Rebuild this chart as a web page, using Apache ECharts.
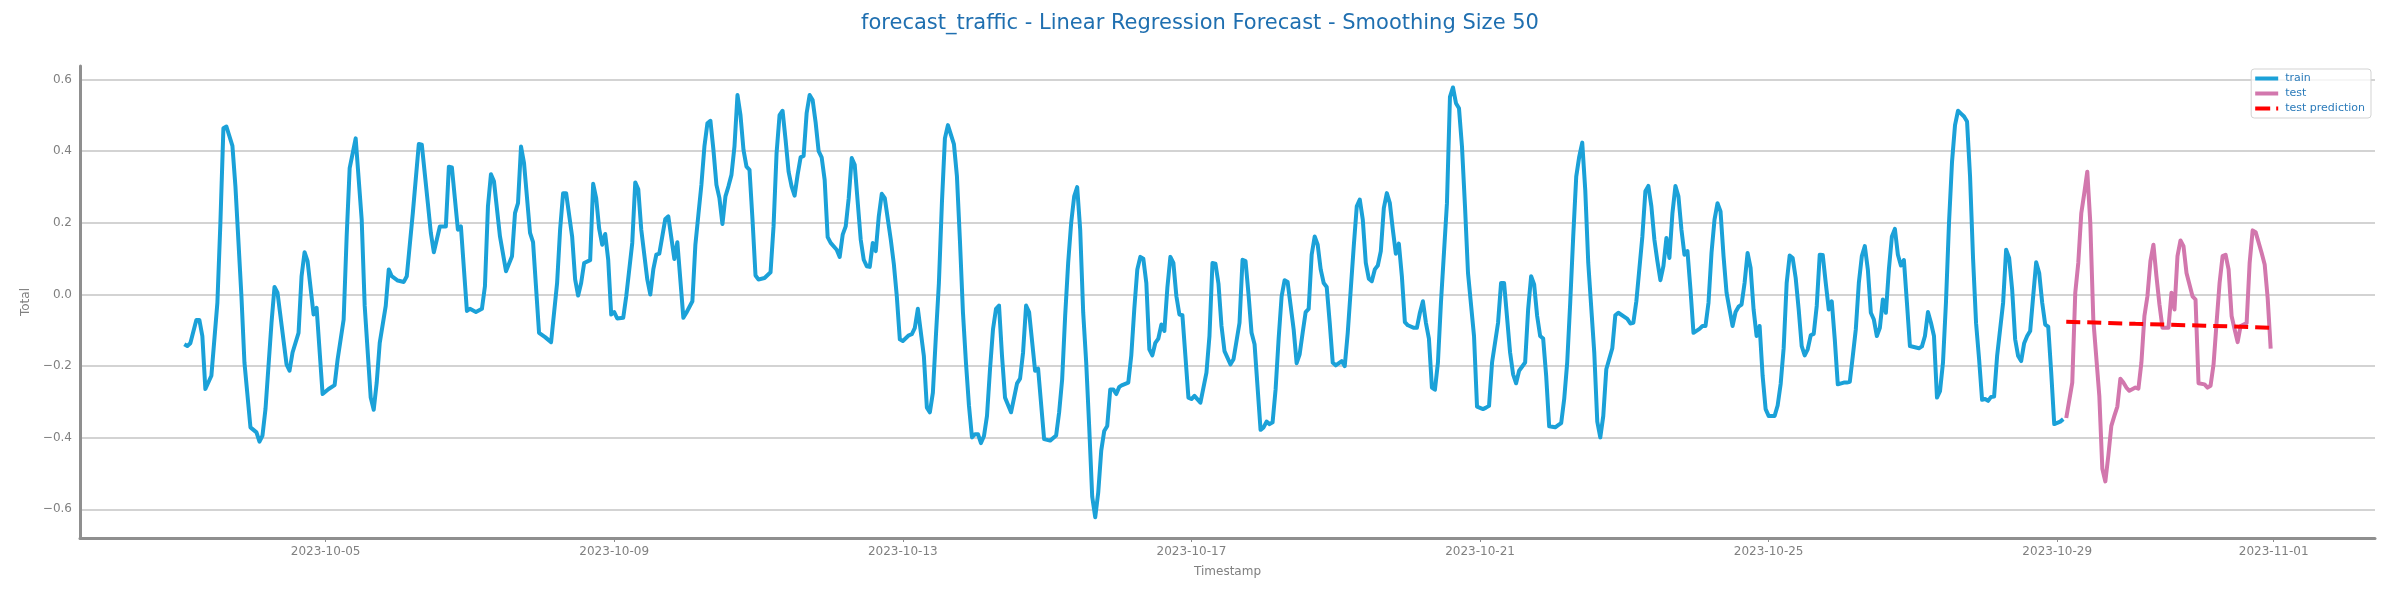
<!DOCTYPE html>
<html>
<head>
<meta charset="utf-8">
<script src="https://cdn.jsdelivr.net/npm/echarts@6/dist/echarts.min.js"></script>
<style>
html,body{margin:0;padding:0;background:#ffffff;}
#chart{width:2400px;height:600px;}
</style>
</head>
<body>
<div id="chart"></div>
<script>
// ---------------- DATA ----------------
const titleText = 'forecast_traffic - Linear Regression Forecast - Smoothing Size 50';
const startTime = '2023-10-03T00:00:00Z'; // hours below are counted from this instant
const xTickLabels = ['2023-10-05','2023-10-09','2023-10-13','2023-10-17','2023-10-21','2023-10-25','2023-10-29','2023-11-01'];
const seriesNames = ['train', 'test', 'test prediction'];

const trainHours = [
1,2,3,5,6,7,8,10,12,13,
14,15,17,18,20,21,23,25,26,27,
28,30,31,32,35,36,37,39,40,41,
42,44,45,47,49,51,52,54,55,56,
58,60,61,63,64,65,66,68,69,70,
72,74,75,77,79,80,82,83,84,86,
88,89,90,92,93,95,96,98,100,101,
102,103,104,106,108,110,111,112,113,114,
116,117,119,121,123,125,126,127,128,130,
131,132,133,134,136,137,138,139,140,141,
142,143,144,145,147,148,150,151,152,153,
155,156,157,158,159,161,162,164,165,167,
168,170,171,172,173,174,175,176,177,178,
179,180,181,182,183,184,185,186,187,188,
189,190,191,192,194,196,197,198,199,200,
201,202,203,204,205,206,207,208,209,210,
211,212,213,214,215,216,218,219,220,221,
222,223,224,226,227,228,229,230,231,232,
233,234,236,237,238,239,240,242,243,244,
245,247,248,249,250,251,252,253,254,255,
257,258,259,260,261,262,263,264,265,266,
267,268,269,270,271,272,273,274,276,278,
279,280,281,282,284,285,287,289,291,292,
293,294,295,296,297,298,299,300,301,302,
303,304,305,306,307,308,309,310,311,312,
313,315,316,317,318,319,320,321,322,323,
324,325,326,327,328,329,330,331,332,333,
334,335,336,337,339,341,342,343,344,345,
346,347,349,350,352,353,354,355,356,357,
359,360,361,362,363,364,365,366,367,368,
370,371,372,373,374,375,376,377,378,379,
380,381,382,383,384,386,387,388,389,390,
391,392,393,394,395,396,397,398,399,400,
401,402,403,404,405,406,407,408,410,411,
412,413,414,415,416,417,418,419,421,422,
423,424,425,426,427,428,430,431,433,434,
435,436,438,439,440,442,443,444,445,447,
448,449,450,451,452,453,454,455,457,458,
459,460,461,462,463,464,465,466,467,468,
470,471,472,473,474,476,477,478,481,482,
483,484,486,487,488,489,490,491,492,493,
494,495,496,497,498,499,500,501,502,503,
505,506,507,508,509,510,511,512,513,514,
515,516,517,518,519,520,521,522,523,524,
525,526,527,528,530,531,532,533,534,535,
536,537,538,539,540,541,542,543,544,545,
546,547,548,549,550,551,553,554,555,556,
557,558,559,560,561,562,563,564,565,566,
567,568,569,570,571,572,573,574,575,576,
578,579,580,581,582,583,584,585,586,587,
588,589,590,591,592,593,594,595,596,597,
598,599,600,601,602,603,604,606,607,608,
609,610,611,612,613,614,615,616,617,618,
619,620,621,622,623,625,626
];
const trainValues = [
-0.139,-0.144,-0.136,-0.071,-0.071,-0.116,-0.264,-0.227,-0.023,0.200,
0.464,0.469,0.415,0.302,-0.005,-0.190,-0.371,-0.385,-0.411,-0.394,
-0.320,-0.079,0.021,0.005,-0.195,-0.213,-0.162,-0.107,0.051,0.118,
0.093,-0.056,-0.037,-0.278,-0.264,-0.253,-0.181,-0.070,0.162,0.353,
0.436,0.209,-0.032,-0.288,-0.322,-0.246,-0.135,-0.032,0.070,0.051,
0.039,0.035,0.051,0.227,0.420,0.418,0.255,0.172,0.118,0.190,
0.190,0.357,0.355,0.181,0.190,-0.046,-0.040,-0.049,-0.040,0.023,
0.246,0.336,0.316,0.162,0.065,0.107,0.227,0.255,0.413,0.367,
0.172,0.146,-0.107,-0.119,-0.133,0.032,0.181,0.283,0.283,0.162,
0.042,-0.003,0.032,0.088,0.096,0.309,0.269,0.183,0.139,0.169,
0.097,-0.056,-0.049,-0.067,-0.065,-0.005,0.144,0.313,0.294,0.181,
0.042,0.000,0.070,0.111,0.114,0.211,0.218,0.099,0.146,-0.065,
-0.051,-0.019,0.139,0.223,0.306,0.413,0.478,0.485,0.404,0.306,
0.269,0.197,0.274,0.302,0.334,0.413,0.557,0.501,0.404,0.357,
0.348,0.209,0.053,0.042,0.046,0.062,0.190,0.394,0.501,0.513,
0.432,0.343,0.302,0.276,0.334,0.383,0.387,0.506,0.557,0.543,
0.480,0.400,0.383,0.320,0.160,0.144,0.125,0.105,0.167,0.190,
0.269,0.381,0.362,0.153,0.097,0.079,0.077,0.144,0.121,0.218,
0.281,0.269,0.153,0.086,-0.005,-0.125,-0.130,-0.114,-0.111,-0.093,
-0.040,-0.172,-0.316,-0.329,-0.274,-0.116,0.032,0.255,0.436,0.473,
0.420,0.330,0.150,-0.050,-0.190,-0.310,-0.399,-0.390,-0.390,-0.415,
-0.395,-0.339,-0.209,-0.097,-0.040,-0.031,-0.172,-0.288,-0.329,-0.248,
-0.235,-0.162,-0.031,-0.049,-0.213,-0.207,-0.404,-0.408,-0.394,-0.329,
-0.237,-0.060,0.088,0.200,0.274,0.300,0.181,-0.051,-0.190,-0.370,
-0.565,-0.622,-0.553,-0.436,-0.381,-0.367,-0.265,-0.265,-0.278,-0.258,
-0.253,-0.246,-0.170,-0.040,0.070,0.105,0.100,0.032,-0.153,-0.170,
-0.135,-0.123,-0.084,-0.102,0.019,0.105,0.088,-0.005,-0.056,-0.058,
-0.172,-0.288,-0.292,-0.283,-0.302,-0.218,-0.116,0.088,0.086,0.030,
-0.088,-0.158,-0.195,-0.181,-0.079,0.097,0.093,0.000,-0.107,-0.139,
-0.378,-0.371,-0.355,-0.362,-0.357,-0.265,-0.125,-0.005,0.040,0.035,
-0.097,-0.192,-0.167,-0.107,-0.049,-0.040,0.111,0.162,0.139,0.070,
0.032,0.021,-0.079,-0.190,-0.198,-0.186,-0.200,-0.107,0.014,0.135,
0.246,0.265,0.209,0.088,0.044,0.037,0.070,0.081,0.121,0.241,
0.283,0.255,0.181,0.114,0.142,0.051,-0.077,-0.086,-0.093,-0.093,
-0.051,-0.019,-0.079,-0.123,-0.260,-0.266,-0.190,-0.023,0.255,0.552,
0.578,0.534,0.520,0.413,0.246,0.060,-0.116,-0.313,-0.320,-0.316,
-0.311,-0.190,-0.079,0.032,0.032,-0.162,-0.223,-0.248,-0.213,-0.190,
-0.042,0.051,0.028,-0.060,-0.116,-0.123,-0.227,-0.368,-0.371,-0.365,
-0.359,-0.292,-0.190,-0.023,0.162,0.329,0.385,0.424,0.292,0.088,
-0.162,-0.355,-0.399,-0.339,-0.209,-0.150,-0.058,-0.051,-0.068,-0.081,
-0.079,-0.019,0.162,0.288,0.303,0.246,0.153,0.093,0.040,0.079,
0.158,0.102,0.227,0.303,0.274,0.181,0.111,0.121,0.014,-0.107,
-0.096,-0.088,-0.088,-0.023,0.116,0.209,0.255,0.232,0.107,0.005,
-0.042,-0.088,-0.049,-0.034,-0.028,0.032,0.116,0.074,-0.042,-0.116,
-0.088,-0.227,-0.320,-0.339,-0.339,-0.310,-0.250,-0.150,0.032,0.109,
0.102,0.046,-0.042,-0.144,-0.170,-0.153,-0.114,-0.110,-0.032,0.111,
0.110,0.032,-0.042,-0.019,-0.125,-0.251,-0.246,-0.246,-0.244,-0.172,
-0.097,0.032,0.107,0.135,0.070,-0.051,-0.070,-0.116,-0.093,-0.014,
-0.051,0.070,0.162,0.183,0.111,0.081,0.096,-0.023,-0.144,-0.146,
-0.150,-0.145,-0.116,-0.049,-0.079,-0.116,-0.288,-0.270,-0.190,-0.020,
0.200,0.370,0.473,0.513,0.505,0.497,0.483,0.330,0.100,-0.080,
-0.180,-0.294,-0.292,-0.297,-0.286,-0.285,-0.172,-0.023,0.125,0.102,
0.014,-0.125,-0.172,-0.186,-0.136,-0.116,-0.102,-0.005,0.090,0.060,
-0.023,-0.084,-0.090,-0.218,-0.362,-0.355,-0.348
];

const testHours = [
627,629,630,631,632,633,634,635,636,638,
639,640,641,642,643,644,645,646,647,648,
650,651,652,653,654,655,656,657,658,659,
661,662,663,664,665,666,667,669,670,671,
673,674,675,676,677,678,679,680,681,682,
683,684,685,687,688,689,690,692,693,694,
695
];
const testValues = [
-0.345,-0.246,0.005,0.088,0.227,0.283,0.343,0.200,-0.070,-0.283,
-0.487,-0.522,-0.450,-0.367,-0.339,-0.313,-0.235,-0.246,-0.260,-0.269,
-0.260,-0.263,-0.190,-0.060,-0.005,0.093,0.139,0.051,-0.028,-0.093,
-0.093,0.005,-0.042,0.107,0.151,0.135,0.060,-0.005,-0.014,-0.248,
-0.251,-0.260,-0.255,-0.195,-0.079,0.032,0.107,0.111,0.070,-0.060,
-0.097,-0.133,-0.088,-0.080,0.088,0.179,0.174,0.116,0.084,-0.010,
-0.151
];

const predHours  = [627, 650, 673, 695];
const predValues = [-0.076, -0.082, -0.087, -0.093];

// ---------------- BUILD ----------------
if (trainHours.length !== trainValues.length) throw new Error('train length mismatch ' + trainHours.length + ' ' + trainValues.length);
if (testHours.length !== testValues.length) throw new Error('test length mismatch ' + testHours.length + ' ' + testValues.length);

const HOUR = 3600 * 1000;
const t0 = Date.parse(startTime);
const toPoints = (hs, vs) => hs.map((h, i) => [t0 + h * HOUR, vs[i]]);
const xTickValues = xTickLabels.map(s => Date.parse(s + 'T00:00:00Z'));
const pad2 = n => (n < 10 ? '0' : '') + n;
const fmtDate = v => { const d = new Date(v); return d.getUTCFullYear() + '-' + pad2(d.getUTCMonth() + 1) + '-' + pad2(d.getUTCDate()); };
const fmtY = v => { const s = (Math.abs(v) < 1e-9 ? 0 : v).toFixed(1); return s.replace('-', '\u2212'); };

const FONT = 'DejaVu Sans';
const AXIS_GRAY = '#8f8f8f';
const LABEL_GRAY = '#808080';
const TRAIN_COLOR = '#1ba1d8';
const TEST_COLOR = '#d277ad';
const PRED_COLOR = '#ff0000';
const LINE_ICON = 'rect';
const DASH_ICON = 'path://M0,0H15V4H0Z M21,0H23V4H21Z';

const chart = echarts.init(document.getElementById('chart'), null, { renderer: 'canvas', width: 2400, height: 600 });
chart.setOption({
  backgroundColor: '#ffffff',
  animation: false,
  textStyle: { fontFamily: FONT },
  title: {
    text: titleText,
    left: 'center',
    top: 8,
    textStyle: { color: '#1f6fb0', fontSize: 21, fontWeight: 'normal', fontFamily: FONT }
  },
  legend: {
    data: [
      { name: seriesNames[0], icon: LINE_ICON },
      { name: seriesNames[1], icon: LINE_ICON },
      { name: seriesNames[2], icon: DASH_ICON, itemStyle: { color: PRED_COLOR, borderWidth: 0 } }
    ],
    orient: 'vertical',
    right: 29,
    top: 69,
    itemWidth: 23,
    itemHeight: 4,
    itemGap: 4,
    padding: [4, 6, 4, 4],
    borderColor: '#d3d3d3',
    borderWidth: 1,
    borderRadius: 3,
    backgroundColor: 'rgba(255,255,255,0.8)',
    itemStyle: { borderWidth: 0 },
    textStyle: { color: '#2b7bba', fontSize: 11, fontFamily: FONT, padding: [0, 0, 0, 2] }
  },
  grid: { left: 80, right: 25, top: 66, bottom: 62, containLabel: false, outerBoundsMode: 'none' },
  xAxis: {
    type: 'value',
    scale: true,
    min: t0 - 33.7 * HOUR,
    max: t0 + 729.7 * HOUR,
    name: 'Timestamp',
    nameLocation: 'middle',
    nameGap: 28,
    nameTextStyle: { color: LABEL_GRAY, fontSize: 12, fontFamily: FONT },
    axisLine: { show: true, onZero: false, lineStyle: { color: AXIS_GRAY, width: 3 } },
    axisTick: { show: true, length: 4, lineStyle: { color: AXIS_GRAY, width: 1 }, customValues: xTickValues },
    axisLabel: { customValues: xTickValues, formatter: v => fmtDate(v), color: LABEL_GRAY, fontSize: 12, margin: 8, fontFamily: FONT, hideOverlap: false },
    splitLine: { show: false },
    minorTick: { show: false }
  },
  yAxis: {
    type: 'value',
    min: -0.68,
    max: 0.638,
    splitNumber: 6,
    minInterval: 0.2,
    maxInterval: 0.2,
    name: 'Total',
    nameLocation: 'middle',
    nameGap: 46,
    nameTextStyle: { color: LABEL_GRAY, fontSize: 12, fontFamily: FONT },
    axisLine: { show: true, lineStyle: { color: AXIS_GRAY, width: 3 } },
    axisTick: { show: false },
    axisLabel: { showMinLabel: false, showMaxLabel: false, formatter: v => fmtY(v), color: LABEL_GRAY, fontSize: 12, margin: 8, fontFamily: FONT },
    splitLine: { show: true, showMinLine: false, showMaxLine: false, lineStyle: { color: '#d3d3d3', width: 2 } }
  },
  series: [
    {
      name: seriesNames[0], type: 'line', data: toPoints(trainHours, trainValues),
      symbol: 'none', showSymbol: false, z: 2,
      itemStyle: { color: TRAIN_COLOR },
      lineStyle: { color: TRAIN_COLOR, width: 4, join: 'round' }
    },
    {
      name: seriesNames[1], type: 'line', data: toPoints(testHours, testValues),
      symbol: 'none', showSymbol: false, z: 2,
      itemStyle: { color: TEST_COLOR },
      lineStyle: { color: TEST_COLOR, width: 4, join: 'round' }
    },
    {
      name: seriesNames[2], type: 'line', data: toPoints(predHours, predValues),
      symbol: 'none', showSymbol: false, z: 3,
      itemStyle: { color: PRED_COLOR },
      lineStyle: { color: PRED_COLOR, width: 4, type: [14, 7] }
    }
  ]
});
</script>
</body>
</html>
